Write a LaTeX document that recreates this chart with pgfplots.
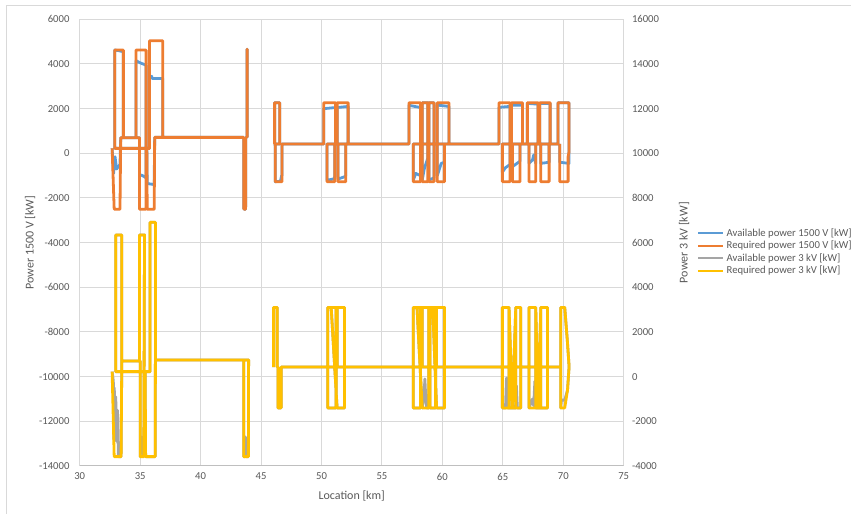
\documentclass[border=0pt]{standalone}
\usepackage{fontspec}
\setmainfont{Carlito}
\usepackage{pgfplots}
\pgfplotsset{compat=1.18}
\definecolor{cblue}{HTML}{5B9BD5}
\definecolor{corange}{HTML}{ED7D31}
\definecolor{cgray}{HTML}{A5A5A5}
\definecolor{cyellow}{HTML}{FFC000}
\definecolor{ctxt}{HTML}{595959}
\definecolor{cgrid}{HTML}{D9D9D9}
\definecolor{caxis}{HTML}{BFBFBF}
\pgfplotsset{
  common/.style={
    at={(59.8pt,36pt)}, anchor=south west,
    scale only axis, width=408pt, height=335pt,
    xmin=30, xmax=75,
    scaled y ticks=false, scaled x ticks=false,
    /pgf/number format/assume math mode=true,
    /pgf/number format/fixed,
    /pgf/number format/1000 sep={},
    ticklabel style={font=\fontsize{8}{9.6}\selectfont, text=ctxt},
    tick style={draw=none},
    unbounded coords=jump,
    legend image code/.code={\draw[##1, line width=1.5pt] (0pt,0pt) -- (18.75pt,0pt);},
  },
  ser/.style={line width=2.1pt, line join=round, no markers},
}
\begin{document}
\begin{tikzpicture}
\useasboundingbox (0,0) rectangle (638.25pt,385.5pt);
\draw[cgrid, line width=0.75pt] (4.5pt,0pt) -- (4.5pt,381pt) -- (638.25pt,381pt);
\begin{axis}[common,
  ymin=-14000, ymax=6000,
  xtick distance=5, ytick distance=2000,
  grid=major, major grid style={cgrid, line width=0.75pt},
  axis line style={draw=none},
  yticklabel style={anchor=east, inner sep=0pt, xshift=-7.5pt},
  xticklabel style={anchor=north, inner sep=0pt, yshift=-5pt},
  xlabel={Location [km]},
  xlabel style={font=\fontsize{9}{11}\selectfont, text=ctxt, at={(axis description cs:0.5,0)}, anchor=center, yshift=-22.5pt},
  ylabel={Power 1500 V [kW]},
  ylabel style={font=\fontsize{9}{11}\selectfont, text=ctxt, at={(axis description cs:-0.0914,0.5)}, anchor=center},
]
\draw[caxis, line width=0.75pt] (rel axis cs:0,0) -- (rel axis cs:1,0);
% Available power 1500 V
\addplot[ser, cblue] coordinates {
(32.68,222) (32.80,-900) (32.92,-150) (33.05,-700) (33.33,-500) (33.39,700) (34.94,700) (34.94,-950) (35.20,-1000) (35.49,-1100) (35.49,3950) (35.00,4050) (34.66,4150) (34.66,700) (33.61,700) (33.61,4550) (33.20,4600) (32.90,4625) (32.90,222) (35.77,222) (35.77,3350) (35.95,3450) (36.00,3350) (36.87,3350) (36.87,715) (36.20,715) (36.16,-1400) (35.58,-1350) (35.55,222) (35.58,-1350) (36.16,-1400) (36.20,715) (43.56,715) (43.58,-2500) (43.72,-2500) (43.74,715) (43.83,715) (43.83,4655) (43.86,4655) (43.86,715)
(45,nan)
(46.04,420) (46.12,420) (46.12,2265) (46.54,2265) (46.54,420) (46.18,420) (46.18,-1270) (46.60,-1250) (46.70,-1000) (46.73,-1000) (46.73,420)
(50.18,420) (50.18,2000) (51.15,2050) (51.15,420) (50.46,420) (50.46,-1200) (51.00,-1150) (51.09,-1050) (51.09,420)
(51.29,420) (51.29,2050) (52.20,2100) (52.20,420) (51.37,420) (51.37,-1150) (51.90,-1050) (52.01,-1000) (52.01,420)
(57.23,420) (57.23,2150) (58.19,2050) (58.19,420) (57.59,420) (57.59,-1200) (57.80,-900) (58.19,-1000) (58.19,420)
(58.33,420) (58.33,2265) (58.80,2265) (58.80,-200) (58.50,-700) (58.33,-1200) (58.33,420)
(58.88,420) (58.88,2265) (59.30,2265) (59.30,-1100) (58.88,-1200) (58.88,420)
(59.58,420) (59.58,2160) (60.54,2100) (60.54,420) (59.58,420) (59.58,-1000) (59.90,-450) (60.18,-400) (60.18,420)
(64.68,420) (64.68,2060) (65.59,2100) (65.59,420) (64.96,420) (64.96,-850) (65.20,-650) (65.59,-500) (65.59,420)
(65.71,420) (65.71,2150) (66.62,2150) (66.62,420) (65.79,420) (65.79,-600) (66.42,-350) (66.42,420)
(67.03,420) (67.03,2237) (67.92,2200) (67.92,420) (67.17,420) (67.17,-450) (67.45,-300) (67.55,-75) (67.72,-450) (67.72,420)
(68.05,420) (68.05,2237) (68.91,2237) (68.91,420) (68.14,420) (68.14,-450) (68.83,-400) (68.83,420)
(69.57,420) (69.57,2265) (70.48,2265) (70.48,-450) (69.71,-400) (69.71,420)
};
% Required power 1500 V
\addplot[ser, corange] coordinates {
(32.68,222) (32.85,-2500) (33.33,-2500) (33.39,700) (34.94,700) (34.94,-2500) (35.49,-2500) (35.49,4625) (34.66,4625) (34.66,700) (33.61,700) (33.61,4625) (32.90,4625) (32.90,222) (35.77,222) (35.77,5043) (36.87,5043) (36.87,715) (36.20,715) (36.16,-2500) (35.58,-2500) (35.55,222) (35.58,-2500) (36.16,-2500) (36.20,715) (43.56,715) (43.58,-2500) (43.72,-2500) (43.74,715) (43.83,715) (43.83,4655) (43.86,4655) (43.86,715)
(45,nan)
(46.04,420) (46.12,420) (46.12,2265) (46.54,2265) (46.54,420) (46.18,420) (46.18,-1270) (46.73,-1270) (46.73,420)
(50.18,420) (50.18,2265) (51.15,2265) (51.15,420) (50.46,420) (50.46,-1270) (51.09,-1270) (51.09,420)
(51.29,420) (51.29,2265) (52.20,2265) (52.20,420) (51.37,420) (51.37,-1270) (52.01,-1270) (52.01,420)
(57.23,420) (57.23,2265) (58.19,2265) (58.19,420) (57.59,420) (57.59,-1270) (58.19,-1270) (58.19,420)
(58.33,420) (58.33,2265) (58.80,2265) (58.80,-1270) (58.33,-1270) (58.33,420)
(58.88,420) (58.88,2265) (59.30,2265) (59.30,-1270) (58.88,-1270) (58.88,420)
(59.58,420) (59.58,2265) (60.54,2265) (60.54,420) (59.58,420) (59.58,-1270) (60.18,-1270) (60.18,420)
(64.68,420) (64.68,2265) (65.59,2265) (65.59,420) (64.96,420) (64.96,-1270) (65.59,-1270) (65.59,420)
(65.71,420) (65.71,2265) (66.62,2265) (66.62,420) (65.79,420) (65.79,-1270) (66.42,-1270) (66.42,420)
(67.03,420) (67.03,2265) (67.92,2265) (67.92,420) (67.17,420) (67.17,-1270) (67.72,-1270) (67.72,420)
(68.05,420) (68.05,2265) (68.91,2265) (68.91,420) (68.14,420) (68.14,-1270) (68.83,-1270) (68.83,420)
(69.57,420) (69.57,2265) (70.48,2265) (70.48,80) (70.40,-150) (70.40,-1270) (69.71,-1270) (69.71,420)
};
\end{axis}
\begin{axis}[common,
  ymin=-4000, ymax=16000, ytick distance=2000,
  axis x line=none, axis y line*=right,
  axis line style={draw=none},
  yticklabel style={anchor=west, inner sep=0pt, xshift=6pt},
  ylabel={Power 3 kV [kW]},
  ylabel style={font=\fontsize{9}{11}\selectfont, text=ctxt, at={(axis description cs:1.111,0.5)}, anchor=center},
  legend style={at={(axis description cs:1.1342,0.479)}, anchor=west, draw=none, fill=none, inner sep=0pt,
    font=\fontsize{8}{9.6}\selectfont, text=ctxt, row sep=1.9pt,
    nodes={inner sep=0pt, text height=6pt, text depth=1.5pt},
    /tikz/every odd column/.style={column sep=2pt}},
  legend cell align=left,
]
\addlegendimage{ser, cblue}\addlegendentry{Available power 1500 V [kW]}
\addlegendimage{ser, corange}\addlegendentry{Required power 1500 V [kW]}
% Available power 3 kV
\addplot[ser, cgray] coordinates {
(32.68,225) (32.78,-200) (32.82,-2800) (32.86,-500) (32.92,-2600) (32.98,-900) (33.05,-2900) (33.12,-1500) (33.20,-3580) (33.42,-3580) (33.48,703) (35.00,703) (35.00,-3580) (35.10,-2700) (35.20,-3300) (35.30,-3580) (35.36,6344) (34.94,6344) (34.94,703) (33.48,703) (33.48,6344) (32.98,6344) (32.98,225) (35.82,225) (35.82,6911) (36.26,6911) (36.26,748) (36.24,-3580) (35.45,-3580) (35.41,225) (35.45,-3580) (36.24,-3580) (36.26,748) (43.56,748) (43.56,-3580) (43.66,-3580) (43.70,-2700) (43.74,-3580) (43.95,-3580) (43.97,748) (43.56,748)
(45,nan)
(46.04,430) (46.04,3100) (46.34,3100) (46.34,430) (46.40,430) (46.40,-1400) (46.66,-1400) (46.66,430)
(50.52,430) (50.52,3100) (51.21,3100) (51.21,-1400) (50.52,-1400) (50.52,430) (51.29,430) (51.29,3100) (51.90,3100) (51.90,-1400) (51.29,-1400) (50.80,3100) (51.29,3100) (51.29,430) (51.90,430)
(57.59,430) (57.59,3100) (58.19,3100) (58.19,-1400) (57.59,-1400) (57.59,430)
(58.33,430) (58.33,3100) (58.88,3100) (58.88,-1400) (58.70,-1400) (58.62,-900) (58.55,-100) (58.48,-900) (58.33,-1400) (57.90,3100) (58.33,3100) (58.33,430)
(58.97,430) (58.97,3100) (59.44,3100) (59.44,-1400) (58.97,-1400) (58.97,430)
(59.52,430) (59.52,3100) (60.18,3100) (60.18,-1400) (59.52,-1400) (59.20,3100) (59.52,3100) (59.52,430) (60.18,430)
(64.96,430) (64.96,3100) (65.51,3100) (65.51,-1400) (65.40,-1400) (65.30,-60) (65.22,-1400) (64.96,-1400) (64.96,430)
(65.51,430) (65.51,3100) (65.79,-1400) (66.07,3100) (66.48,3100) (66.48,-1400) (66.20,-1400) (66.12,-400) (66.05,-1400) (65.51,-1400) (65.51,430)
(66.07,430) (66.07,-1400) (66.07,3100) (66.07,430) (66.48,430)
(67.17,430) (67.17,3100) (67.72,3100) (67.72,-1400) (67.65,-200) (67.55,-1300) (67.45,-1000) (67.17,-1400) (67.17,430)
(67.72,430) (67.72,3100) (67.93,-1400) (68.14,3100) (68.69,3100) (68.69,-1400) (67.72,-1400) (67.72,430)
(68.14,430) (68.14,-1400) (68.14,3100) (68.14,430) (68.69,430)
(69.79,430) (69.79,3100) (70.12,3100) (70.35,1500) (70.48,450) (70.35,-600) (70.12,-1050) (69.85,-1050) (69.79,-1400) (69.79,430)
};
\addlegendentry{Available power 3 kV [kW]}
% Required power 3 kV
\addplot[ser, cyellow] coordinates {
(32.68,225) (32.85,-3580) (33.42,-3580) (33.48,703) (35.00,703) (35.00,-3580) (35.30,-3580) (35.36,6344) (34.94,6344) (34.94,703) (33.48,703) (33.48,6344) (32.98,6344) (32.98,225) (35.82,225) (35.82,6911) (36.26,6911) (36.26,748) (36.24,-3580) (35.45,-3580) (35.41,225) (35.45,-3580) (36.24,-3580) (36.26,748) (43.56,748) (43.56,-3580) (43.95,-3580) (43.97,748) (43.56,748)
(45,nan)
(46.04,430) (46.04,3100) (46.34,3100) (46.34,430) (46.40,430) (46.40,-1400) (46.66,-1400) (46.66,430)
(50.52,430) (50.52,3100) (51.21,3100) (51.21,-1400) (50.52,-1400) (50.52,430) (51.29,430) (51.29,3100) (51.90,3100) (51.90,-1400) (51.29,-1400) (50.80,3100) (51.29,3100) (51.29,430) (51.90,430)
(57.59,430) (57.59,3100) (58.19,3100) (58.19,-1400) (57.59,-1400) (57.59,430)
(58.33,430) (58.33,3100) (58.88,3100) (58.88,-1400) (58.33,-1400) (57.90,3100) (58.33,3100) (58.33,430)
(58.97,430) (58.97,3100) (59.44,3100) (59.44,-1400) (58.97,-1400) (58.97,430)
(59.52,430) (59.52,3100) (60.18,3100) (60.18,-1400) (59.52,-1400) (59.20,3100) (59.52,3100) (59.52,430) (60.18,430)
(64.96,430) (64.96,3100) (65.51,3100) (65.51,-1400) (64.96,-1400) (64.96,430)
(65.51,430) (65.51,3100) (65.79,-1400) (66.07,3100) (66.48,3100) (66.48,-1400) (65.51,-1400) (65.51,430)
(66.07,430) (66.07,-1400) (66.07,3100) (66.07,430) (66.48,430)
(67.17,430) (67.17,3100) (67.72,3100) (67.72,-1400) (67.17,-1400) (67.17,430)
(67.72,430) (67.72,3100) (67.93,-1400) (68.14,3100) (68.69,3100) (68.69,-1400) (67.72,-1400) (67.72,430)
(68.14,430) (68.14,-1400) (68.14,3100) (68.14,430) (68.69,430)
(69.79,430) (69.79,3100) (70.12,3100) (70.35,1500) (70.48,450) (70.35,-600) (70.12,-1400) (69.79,-1400) (69.79,430)
};
\addlegendentry{Required power 3 kV [kW]}
\end{axis}
\end{tikzpicture}
\end{document}
